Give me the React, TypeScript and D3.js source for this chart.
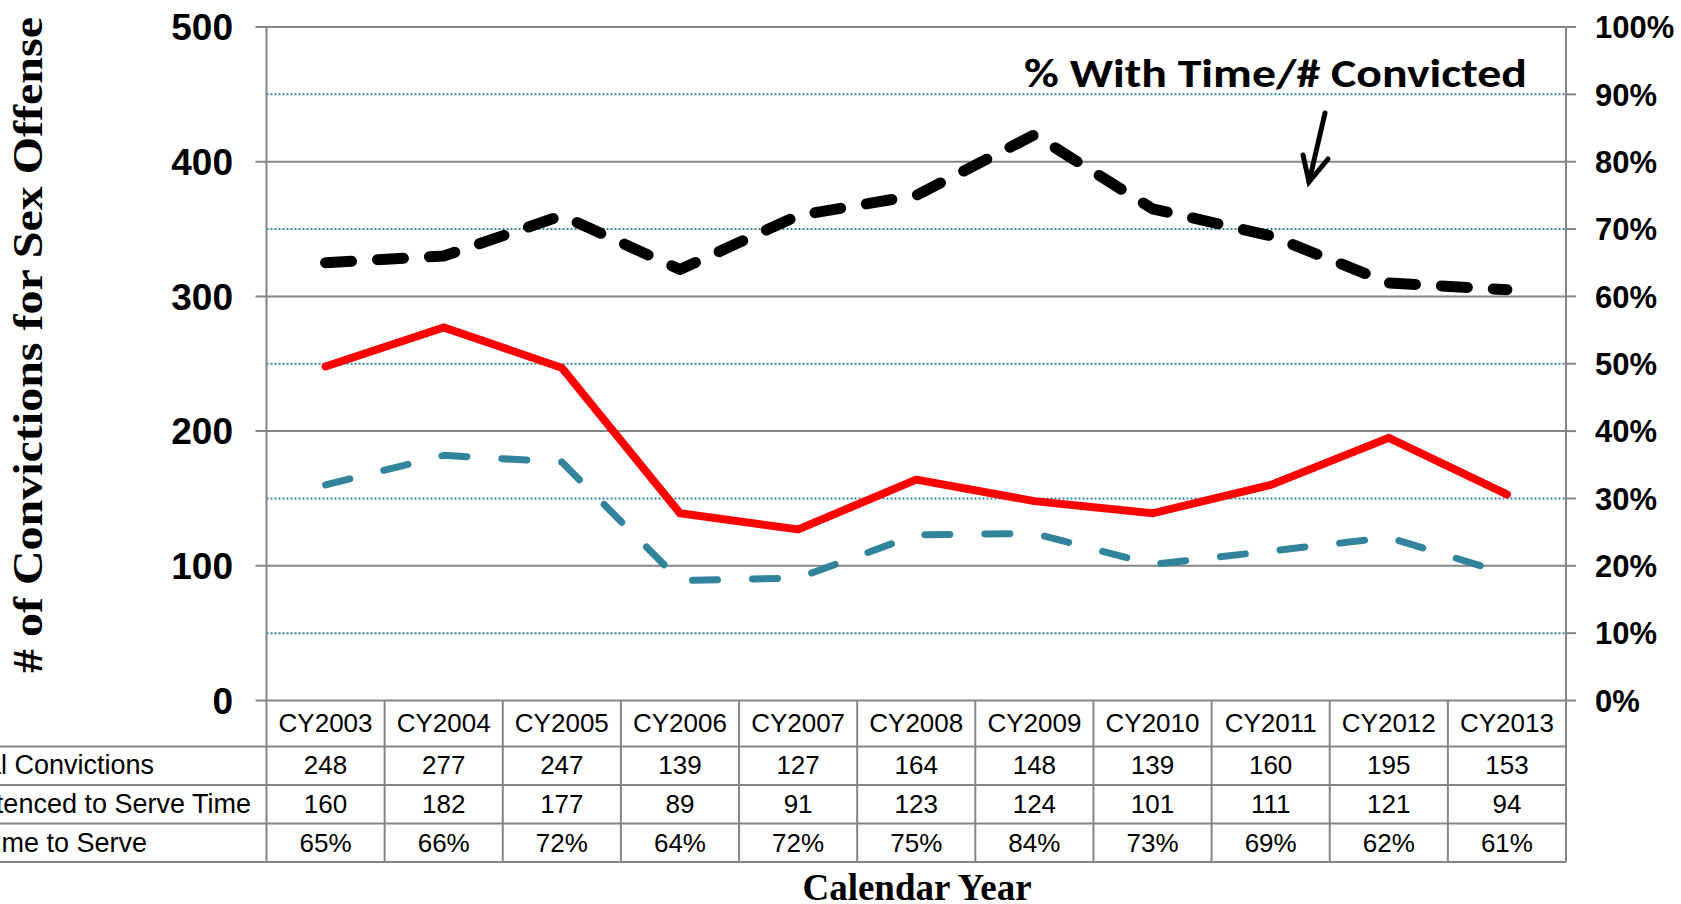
import React from "react";
import * as d3 from "d3";

const years = ["CY2003","CY2004","CY2005","CY2006","CY2007","CY2008","CY2009","CY2010","CY2011","CY2012","CY2013"];
const totalConvictions = [248,277,247,139,127,164,148,139,160,195,153];
const sentencedTime = [160,182,177,89,91,123,124,101,111,121,94];
const pctWithTime = [0.65,0.66,0.72,0.64,0.72,0.75,0.84,0.73,0.69,0.62,0.61];
const rowLabels = ["Total Convictions","# Sentenced to Serve Time","% With Time to Serve"];
const leftTicks = [0,100,200,300,400,500];
const minorTicks = [50,150,250,350,450];
const rightTicks = [0,0.1,0.2,0.3,0.4,0.5,0.6,0.7,0.8,0.9,1.0];

const W = 1681, H = 904;
const L = 266.5, R = 1566, T = 27, B = 700.5;
const rowLines = [746.5, 785, 823.5, 862];
const rowBaselines = [774, 813, 852];
const rowLabelEnds = [154, 251, 147];

export default function App() {
  const x = d3.scaleBand<string>().domain(years).range([L, R]).padding(0);
  const cx = (i: number) => (x(years[i]) as number) + x.bandwidth() / 2;
  const yL = d3.scaleLinear().domain([0, 500]).range([B, T]);
  const yR = d3.scaleLinear().domain([0, 1]).range([B, T]);

  const lineL = d3.line<number>().x((_, i) => cx(i)).y((d) => yL(d));
  const lineR = d3.line<number>().x((_, i) => cx(i)).y((d) => yR(d));

  const gray = "#858585";
  const teal = "#31849B";
  const rows = [
    totalConvictions.map(String),
    sentencedTime.map(String),
    pctWithTime.map((p) => d3.format(".0%")(p)),
  ];
  const sans = "'Liberation Sans', Arial, sans-serif";
  const serif = "'Liberation Serif', 'Times New Roman', serif";

  return (
    <svg width={W} height={H} style={{ position: "absolute", left: 0, top: 0 }}>
      <rect width={W} height={H} fill="#fff" />
      {minorTicks.map((t) => (
        <line key={"mi" + t} x1={L} x2={R} y1={yL(t)} y2={yL(t)} stroke={teal} strokeWidth={2} strokeDasharray="2,2" />
      ))}
      {leftTicks.map((t) => (
        <line key={"ma" + t} x1={L - 11} x2={R} y1={yL(t)} y2={yL(t)} stroke={gray} strokeWidth={2} />
      ))}
      {rightTicks.map((t) => (
        <line key={"rt" + t} x1={R} x2={R + 10} y1={yR(t)} y2={yR(t)} stroke={gray} strokeWidth={2} />
      ))}
      <line x1={L} x2={L} y1={T} y2={rowLines[3]} stroke={gray} strokeWidth={2} />
      <line x1={R} x2={R} y1={T} y2={rowLines[3]} stroke={gray} strokeWidth={2} />
      {rowLines.map((yy, i) => (
        <line key={"rl" + i} x1={0} x2={R} y1={yy} y2={yy} stroke={gray} strokeWidth={2} />
      ))}
      {years.map((yr, i) => (
        i > 0 ? <line key={"cl" + i} x1={x(yr) as number} x2={x(yr) as number} y1={B} y2={rowLines[3]} stroke={gray} strokeWidth={2} /> : null
      ))}
      {years.map((yr, i) => (
        <text key={"h" + i} x={cx(i)} y={732} textAnchor="middle" fontFamily={sans} fontSize={26} fill="#000">{yr}</text>
      ))}
      {rows.map((r, ri) =>
        r.map((v, i) => (
          <text key={"v" + ri + "-" + i} x={cx(i)} y={rowBaselines[ri]} textAnchor="middle" fontFamily={sans} fontSize={26} fill="#000">{v}</text>
        ))
      )}
      {rowLabels.map((lb, i) => (
        <text key={"lb" + i} x={rowLabelEnds[i]} y={rowBaselines[i]} textAnchor="end" fontFamily={sans} fontSize={27} fill="#000">{lb}</text>
      ))}
      {leftTicks.map((t) => (
        <text key={"lt" + t} x={233} y={yL(t)} dy="0.36em" textAnchor="end" fontFamily={sans} fontWeight="bold" fontSize={37} fill="#000">{t}</text>
      ))}
      {rightTicks.map((t) => (
        <text key={"rl" + t} x={1595} y={yR(t)} dy="0.36em" textAnchor="start" fontFamily={sans} fontWeight="bold" fontSize={31} fill="#000">{d3.format(".0%")(t)}</text>
      ))}
      <path d={lineL(totalConvictions) as string} fill="none" stroke="#FF0000" strokeWidth={8} strokeLinejoin="miter" strokeLinecap="round" />
      <path d={lineL(sentencedTime) as string} fill="none" stroke={teal} strokeWidth={7} strokeDasharray="25,35" strokeLinecap="round" strokeLinejoin="round" />
      <path d={lineR(pctWithTime) as string} fill="none" stroke="#000" strokeWidth={11} strokeDasharray="26,26" strokeLinecap="round" strokeLinejoin="round" />
      <text x={1024} y={87} fontFamily="Carlito, Calibri, Lato, sans-serif" fontWeight="bold" fontSize={41} textLength={503} lengthAdjust="spacingAndGlyphs" fill="#000">% With Time/# Convicted</text>
      <line x1={1325} y1={113} x2={1309} y2={182} stroke="#000" strokeWidth={5} strokeLinecap="round" />
      <polyline points="1303,155 1309,182 1328,159" fill="none" stroke="#000" strokeWidth={5} strokeLinecap="round" strokeLinejoin="miter" />
      <text transform="translate(42,345) rotate(-90)" textAnchor="middle" fontFamily={serif} fontWeight="bold" fontSize={43} textLength={656} lengthAdjust="spacingAndGlyphs" fill="#000"># of Convictions for Sex Offense</text>
      <text x={917} y={900} textAnchor="middle" fontFamily={serif} fontWeight="bold" fontSize={37} fill="#000">Calendar Year</text>
    </svg>
  );
}
